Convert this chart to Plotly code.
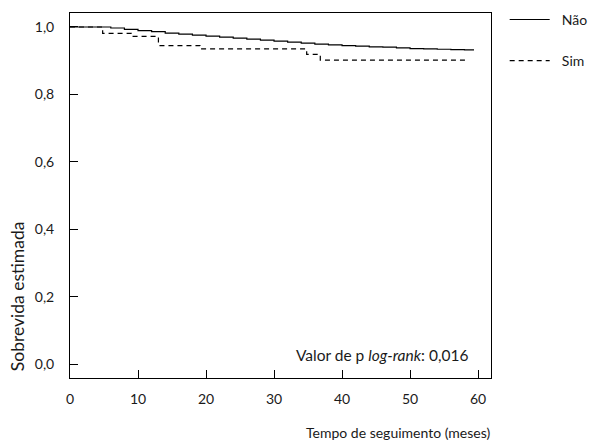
import plotly.graph_objects as go

# Kaplan-Meier survival estimates by group
nao_tempo = [0, 4.7, 6, 8, 10, 12, 14, 16, 18, 20, 22, 24, 26, 28, 30, 32, 34,
             36, 38, 40, 42, 44, 46, 48, 50, 52, 54, 56, 58, 59.4]
nao_sobrevida = [1.0, 1.0, 0.997, 0.993, 0.989, 0.986, 0.982, 0.979, 0.976, 0.973,
                 0.970, 0.967, 0.964, 0.961, 0.958, 0.955, 0.952, 0.949, 0.947,
                 0.945, 0.943, 0.941, 0.940, 0.938, 0.936, 0.935, 0.934, 0.933,
                 0.932, 0.932]

sim_tempo = [0, 4.8, 9.0, 13.0, 19.1, 34.8, 36.8, 58.5]
sim_sobrevida = [1.0, 0.981, 0.972, 0.945, 0.935, 0.919, 0.902, 0.902]

x_ticks = [0, 10, 20, 30, 40, 50, 60]
y_ticks = [0.0, 0.2, 0.4, 0.6, 0.8, 1.0]

FONT = "Lato, 'Open Sans', sans-serif"
INK = "#1a1a1a"
PAD = "\u00a0\u00a0"  # small gap between legend line and label

fig = go.Figure()
fig.add_trace(go.Scatter(
    x=nao_tempo, y=nao_sobrevida, mode="lines", name=PAD + "Não",
    line=dict(color="black", width=1.2, shape="hv"),
    legendgroup="nao",
))
fig.add_trace(go.Scatter(
    x=sim_tempo, y=sim_sobrevida, mode="lines", name=PAD + "Sim",
    line=dict(color="black", width=1.2, shape="hv", dash="5px,4px"),
    legendgroup="sim",
))

axis_common = dict(
    showline=True, linecolor="black", linewidth=1, mirror=True,
    ticks="inside", ticklen=8, tickwidth=1, tickcolor="black",
    showgrid=False, zeroline=False,
    tickfont=dict(family=FONT, size=14, color=INK),
)

fig.update_xaxes(range=[0, 61.9], tickvals=x_ticks, ticklabelstandoff=8, **axis_common)
fig.update_yaxes(range=[-0.041, 1.0415], tickvals=y_ticks, tickformat=".1f",
                 ticklabelstandoff=12, **axis_common)

fig.update_layout(
    width=593, height=443,
    margin=dict(l=70, r=102, t=13, b=65, autoexpand=False),
    paper_bgcolor="white", plot_bgcolor="white",
    separators=",.",
    font=dict(family=FONT, size=14, color=INK),
    showlegend=True,
    legend=dict(
        x=1.0325, y=1.025, xanchor="left", yanchor="top",
        font=dict(family=FONT, size=14, color=INK),
        tracegroupgap=20, itemwidth=40, bgcolor="rgba(0,0,0,0)",
    ),
    annotations=[
        dict(text="Valor de p <i>log-rank</i>: 0,016", xref="paper", yref="paper",
             x=0.949, y=0.062, xanchor="right", yanchor="middle", showarrow=False,
             font=dict(family=FONT, size=15.5, color=INK)),
        dict(text="Sobrevida estimada", xref="paper", yref="paper",
             x=-0.126, y=0.224, xanchor="center", yanchor="middle", textangle=-90,
             showarrow=False, font=dict(family=FONT, size=17.5, color=INK)),
        dict(text="Tempo de seguimento (meses)", xref="paper", yref="paper",
             x=1.002, y=-0.149, xanchor="right", yanchor="middle", showarrow=False,
             font=dict(family=FONT, size=14, color=INK)),
    ],
)

fig.write_html("out.html")
